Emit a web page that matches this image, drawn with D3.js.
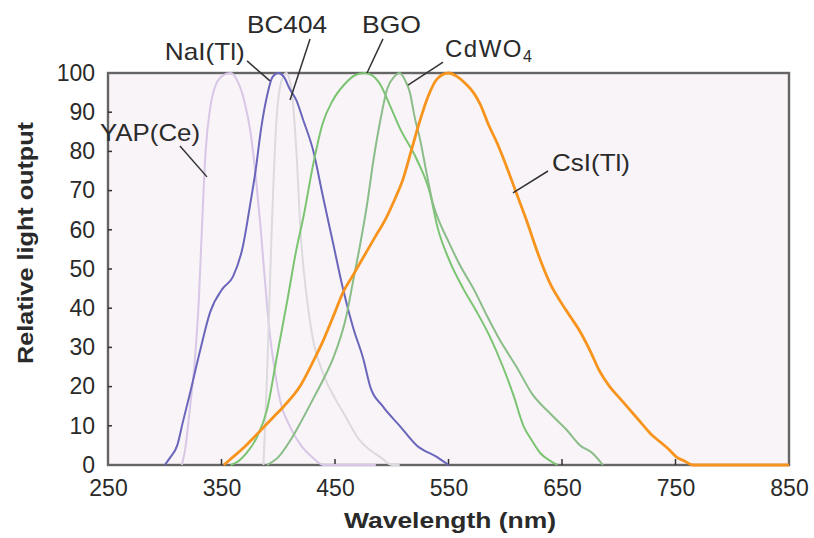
<!DOCTYPE html>
<html>
<head>
<meta charset="utf-8">
<script src="https://cdn.jsdelivr.net/npm/d3@7"></script>
<style>
  body { margin: 0; background: #fff; }
  text { font-family: "Liberation Sans", Arial, sans-serif; fill: #2a2a2a; }
</style>
</head>
<body>
<div id="container"></div>
<script>
// emission spectra (wavelength in nm, relative output in %)
const yapNm  = [315, 318, 322, 326, 330, 333, 336, 340, 345, 352, 358, 364, 370, 376, 380, 384, 388, 392, 397, 402, 410, 420, 430, 440, 486]
const yapVal = [0, 4, 14, 25, 42, 62, 80, 91, 97, 99.5, 100, 98, 93, 84, 74, 62, 48, 35, 24, 16, 10, 5, 2, 0, 0]

const greyNm  = [387, 390, 394, 398, 402, 407, 412, 416, 420, 425, 430, 440, 450, 460, 470, 480, 490, 500, 507]
const greyVal = [0, 22, 58, 86, 97, 100, 95, 80, 58, 43, 33, 23, 17, 12, 7, 4, 2, 0, 0]

const blueNm  = [300, 305, 311, 316, 322, 331, 340, 351, 360, 369, 375, 380, 385, 390, 395, 400, 405, 410, 416, 422, 431, 439, 448, 457, 466, 475, 481, 492, 507, 522, 540, 550]
const blueVal = [0, 2, 5, 11, 18, 29, 39, 45, 48, 56, 66, 75, 86, 94, 99, 100, 99, 96, 93, 88, 80, 69, 57, 45, 35, 27, 20, 15, 10, 5, 2, 0]

const bgoNm  = [358, 365, 372, 381, 390, 399, 408, 416, 422, 431, 439, 448, 458, 468, 476, 482, 490, 498, 507, 522, 534, 540, 551, 563, 575, 586, 598, 607, 616, 624, 631, 640, 646]
const bgoVal = [0, 1, 3, 7, 14, 28, 42, 55, 63, 77, 87, 93, 97, 99.5, 100, 99.5, 97, 92, 86, 78, 69, 61, 52, 45, 39, 33, 25, 18, 10, 6, 3, 1, 0]

const cdwNm  = [390, 400, 410, 420, 431, 440, 448, 460, 466, 472, 478, 484, 490, 496, 502, 507, 512, 516, 520, 525, 531, 536, 542, 550, 560, 572, 584, 595, 610, 624, 640, 654, 666, 677, 686]
const cdwVal = [0, 2, 6, 11, 17, 22, 27, 38, 47, 56, 66, 78, 88, 96, 99, 100, 98, 95, 89, 83, 74, 67, 62, 57, 51, 45, 38, 32, 25, 18, 13, 9, 5, 3, 0]

const csiNm  = [352, 360, 368, 375, 385, 395, 405, 419, 430, 440, 450, 457, 465, 475, 485, 495, 503, 510, 517, 525, 532, 540, 550, 558, 566, 572, 578, 585, 593, 600, 609, 618, 630, 640, 648, 657, 666, 675, 683, 692, 701, 710, 719, 728, 736, 744, 751, 758, 765, 850]
const csiVal = [0, 2, 4, 6, 9, 12, 15, 20, 26, 32, 39, 44, 48, 53, 58, 63, 68, 73, 80, 88, 94, 98.5, 100, 99, 97, 95, 92, 87, 82, 77, 70, 63, 53, 46, 42, 38, 34, 29, 24, 20, 17, 14, 11, 8, 6, 4, 2, 1, 0, 0]

const xTicks = [250, 350, 450, 550, 650, 750, 850]
const yTicks = [0, 10, 20, 30, 40, 50, 60, 70, 80, 90, 100]

// labels: text anchor point and leader line, in data units
const labelText = ["NaI(Tl)", "BC404", "BGO", "CdWO", "YAP(Ce)", "CsI(Tl)"]
const labelAt   = [[300, 103.3], [372.5, 110.2], [473.8, 110.2], [546.9, 104.1], [243, 82.7], [641.2, 75]]
const leaderFrom = [[372.5, 103.1], [428, 108.7], [492.3, 108.7], [545.2, 102.8], [313.4, 81.4], [637.7, 75]]
const leaderTo   = [[392.7, 98.0], [410.4, 93.1], [478.2, 100], [514.3, 96.9], [337.2, 73.5], [606.8, 69.4]]
const labelWidth = [80, 80, 59, null, 100, 78]

const series = [
    { nm: yapNm, val: yapVal, color: "#d8c7e6", w: 2 },
    { nm: greyNm, val: greyVal, color: "#dcdadf", w: 2 },
    { nm: blueNm, val: blueVal, color: "#6a66bb", w: 2 },
    { nm: bgoNm, val: bgoVal, color: "#7bc471", w: 2 },
    { nm: cdwNm, val: cdwVal, color: "#8abd88", w: 2 },
    { nm: csiNm, val: csiVal, color: "#f7941d", w: 2.8 }
]

const margin = { top: 73, right: 25, bottom: 73, left: 108 }
const W = 814, H = 538

const svg = d3.select("#container")
    .append("svg")
    .attr("width", W)
    .attr("height", H)

const xScale = d3.scaleLinear().domain([250, 850]).range([margin.left, W - margin.right])
const yScale = d3.scaleLinear().domain([0, 100]).range([H - margin.bottom, margin.top])

// plot frame
svg.append("rect")
    .attr("x", xScale(250))
    .attr("y", yScale(100))
    .attr("width", xScale(850) - xScale(250))
    .attr("height", yScale(0) - yScale(100))
    .attr("fill", "#f9f4f8")
    .attr("stroke", "#656565")
    .attr("stroke-width", 2.4)

// inner ticks
svg.append("g").selectAll("line")
    .data(yTicks.slice(1, -1))
    .enter().append("line")
    .attr("x1", xScale(250)).attr("x2", xScale(250) + 4)
    .attr("y1", d => yScale(d)).attr("y2", d => yScale(d))
    .attr("stroke", "#333").attr("stroke-width", 1.5)

svg.append("g").selectAll("line")
    .data(xTicks.slice(1, -1))
    .enter().append("line")
    .attr("x1", d => xScale(d)).attr("x2", d => xScale(d))
    .attr("y1", yScale(0)).attr("y2", yScale(0) - 6)
    .attr("stroke", "#333").attr("stroke-width", 1.5)

// curves
const line = d3.line()
    .x(d => xScale(d[0]))
    .y(d => yScale(d[1]))
    .curve(d3.curveMonotoneX)

series.forEach(s => {
    svg.append("path")
        .datum(s.nm.map((n, i) => [n, s.val[i]]))
        .attr("fill", "none")
        .attr("stroke", s.color)
        .attr("stroke-width", s.w)
        .attr("stroke-linejoin", "round")
        .attr("d", line)
})

// axes (labels only)
const xAxis = svg.append("g")
    .attr("transform", "translate(0," + yScale(0) + ")")
    .call(d3.axisBottom(xScale).tickValues(xTicks).tickSize(0).tickPadding(15))
xAxis.select(".domain").remove()
xAxis.selectAll("text").style("font-size", "23px").style("fill", "#2a2a2a")

const yAxis = svg.append("g")
    .attr("transform", "translate(" + xScale(250) + ",0)")
    .call(d3.axisLeft(yScale).tickValues(yTicks).tickSize(0).tickPadding(13))
yAxis.select(".domain").remove()
yAxis.selectAll("text").style("font-size", "23px").style("fill", "#2a2a2a")

// axis titles
svg.append("text")
    .attr("x", 450)
    .attr("y", 528)
    .attr("text-anchor", "middle")
    .attr("textLength", 212)
    .attr("lengthAdjust", "spacingAndGlyphs")
    .style("font-size", "22px")
    .style("font-weight", "bold")
    .text("Wavelength (nm)")

svg.append("text")
    .attr("transform", "translate(33,243) rotate(-90)")
    .attr("text-anchor", "middle")
    .attr("textLength", 242)
    .attr("lengthAdjust", "spacingAndGlyphs")
    .style("font-size", "22px")
    .style("font-weight", "bold")
    .text("Relative light output")

// curve labels and leader lines
labelText.forEach((t, i) => {
    svg.append("line")
        .attr("x1", xScale(leaderFrom[i][0])).attr("y1", yScale(leaderFrom[i][1]))
        .attr("x2", xScale(leaderTo[i][0])).attr("y2", yScale(leaderTo[i][1]))
        .attr("stroke", "#333").attr("stroke-width", 1.5)

    let label = svg.append("text")
        .attr("x", xScale(labelAt[i][0]))
        .attr("y", yScale(labelAt[i][1]))
        .style("font-size", "24px")

    if (labelWidth[i]) {
        label.attr("textLength", labelWidth[i]).attr("lengthAdjust", "spacingAndGlyphs").text(t)
    } else {
        label.style("letter-spacing", "1.5px").text(t)
        label.append("tspan").attr("dy", 5).style("font-size", "16px").text("4")
    }
})
</script>
</body>
</html>
